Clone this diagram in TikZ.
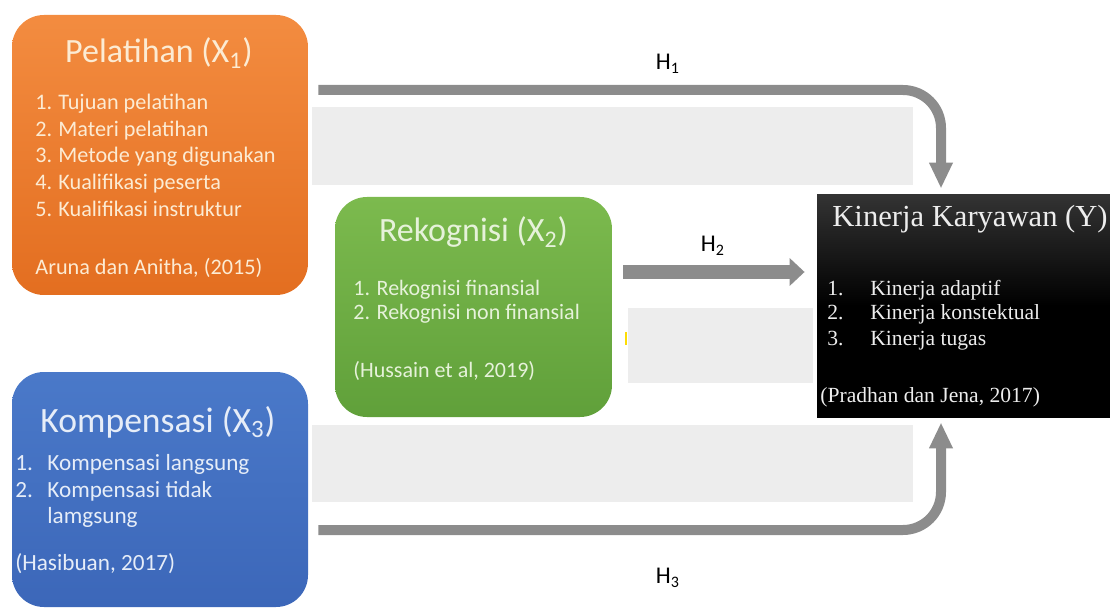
\documentclass[tikz,border=0pt]{standalone}
\usepackage{fontspec}
\setmainfont{Carlito}
\newfontfamily\timesfont{Liberation Serif}
\usetikzlibrary{arrows.meta}

\definecolor{pelTop}{HTML}{F38C40}
\definecolor{pelBot}{HTML}{E36E20}
\definecolor{pelText}{HTML}{FCEBD3}
\definecolor{rekTop}{HTML}{7CBA4E}
\definecolor{rekBot}{HTML}{60A03A}
\definecolor{rekText}{HTML}{E6F2DA}
\definecolor{komTop}{HTML}{4A79C9}
\definecolor{komBot}{HTML}{3C67B9}
\definecolor{komText}{HTML}{E6EDF8}
\definecolor{kinTop}{HTML}{333333}
\definecolor{kinText}{HTML}{EDEDED}
\definecolor{band}{HTML}{EDEDED}
\definecolor{arrowgray}{HTML}{8C8C8C}

\begin{document}
\begin{tikzpicture}[x=0.5pt,y=-0.5pt]
  \tikzstyle{box} = [rounded corners=16pt, inner sep=0pt]
  \tikzstyle{ttl} = [anchor=base, inner sep=0pt, font=\fontsize{17}{20}\selectfont]
  \tikzstyle{itm} = [anchor=base west, inner sep=0pt]
  \tikzstyle{harrow} = [draw=arrowgray, line width=5pt, rounded corners=19pt,
    -{Triangle[width=11pt,length=13pt]}]
  \tikzstyle{hlab} = [inner sep=0pt, font=\fontsize{12}{14}\selectfont];
  \useasboundingbox (0,0) rectangle (1110,610);

  % grey bands behind the arrows
  \fill[band] (312,107) rectangle (913,185);
  \fill[band] (628,308) rectangle (813,383);
  \fill[band] (312,425) rectangle (913,502);
  \fill[yellow!80!orange] (625,332) rectangle (627,345);

  % boxes
  \node[box, top color=pelTop, bottom color=pelBot, minimum width=148pt,
    minimum height=140pt](pel) at (160,155){};
  \node[box, top color=rekTop, bottom color=rekBot, minimum width=138.5pt,
    minimum height=110pt](rek) at (473.5,307){};
  \node[box, top color=komTop, bottom color=komBot, minimum width=148pt,
    minimum height=117.5pt](kom) at (160,489.5){};
  \node[inner sep=0pt, top color=kinTop, bottom color=black, middle color=black,
    minimum width=149pt, minimum height=111pt](kin) at (966,306){};

  % Pelatihan
  \node[ttl, text=pelText](pelT) at (159,63){Pelatihan (X\textsubscript{1})};
  \begin{scope}[every node/.style={itm, text=pelText, font=\fontsize{11.1}{13}\selectfont}]
  \node(pel1) at (35,110){\makebox[11.5pt][l]{1.}Tujuan pelatihan};
  \node(pel2) at (35,137){\makebox[11.5pt][l]{2.}Materi pelatihan};
  \node(pel3) at (35,163){\makebox[11.5pt][l]{3.}Metode yang digunakan};
  \node(pel4) at (35,190){\makebox[11.5pt][l]{4.}Kualifikasi peserta};
  \node(pel5) at (35,217){\makebox[11.5pt][l]{5.}Kualifikasi instruktur};
  \node(pelC) at (35,275){Aruna dan Anitha, (2015)};
  \end{scope}

  % Rekognisi
  \node[ttl, text=rekText](rekT) at (473.5,242){Rekognisi (X\textsubscript{2})};
  \begin{scope}[every node/.style={itm, text=rekText, font=\fontsize{11}{13}\selectfont}]
  \node(rek1) at (353,295){1. Rekognisi finansial};
  \node(rek2) at (353,320){2. Rekognisi non finansial};
  \node(rekC) at (353,377){(Hussain et al, 2019)};
  \end{scope}

  % Kompensasi
  \node[ttl, text=komText, font=\fontsize{17.8}{21}\selectfont](komT) at (158,432){Kompensasi (X\textsubscript{3})};
  \begin{scope}[every node/.style={itm, text=komText, font=\fontsize{11.6}{14}\selectfont}]
  \node(kom1) at (15,470){\makebox[16pt][l]{1.}Kompensasi langsung};
  \node(kom2) at (15,497){\makebox[16pt][l]{2.}Kompensasi tidak};
  \node(kom2b) at (47,523){lamgsung};
  \node(komC) at (15,570){(Hasibuan, 2017)};
  \end{scope}

  % Kinerja Karyawan
  \node[itm, text=kinText, font=\timesfont\fontsize{15.3}{18}\selectfont](kinT) at (832,227){Kinerja Karyawan (Y)};
  \begin{scope}[every node/.style={itm, text=kinText, font=\timesfont\fontsize{10.8}{13}\selectfont}]
  \node(kin1) at (827,295){\makebox[21.5pt][l]{1.}Kinerja adaptif};
  \node(kin2) at (827,320){\makebox[21.5pt][l]{2.}Kinerja konstektual};
  \node(kin3) at (827,345){\makebox[21.5pt][l]{3.}Kinerja tugas};
  \node(kinC) at (820,402){(Pradhan dan Jena, 2017)};
  \end{scope}

  % hypotheses
  \coordinate (h1y) at (0,90);
  \coordinate (h2y) at (0,272);
  \coordinate (h3y) at (0,530);
  \coordinate (hx) at (941,0);
  \draw[harrow]([xshift=5pt]pel.east |- h1y) -| ([yshift=3pt]kin.north -| hx);
  \draw[harrow]([xshift=5pt]kom.east |- h3y) -| ([yshift=-2.5pt]kin.south -| hx);
  \draw[draw=arrowgray, line width=7pt, -{Triangle[width=13.5pt,length=7.5pt]}]
    ([xshift=5.5pt]rek.east |- h2y) -- ([xshift=-6pt]kin.west |- h2y);

  \node[hlab](h1) at (668,64){H\textsubscript{1}};
  \node[hlab](h2) at (713,246){H\textsubscript{2}};
  \node[hlab](h3) at (668,578){H\textsubscript{3}};
\end{tikzpicture}
\end{document}
